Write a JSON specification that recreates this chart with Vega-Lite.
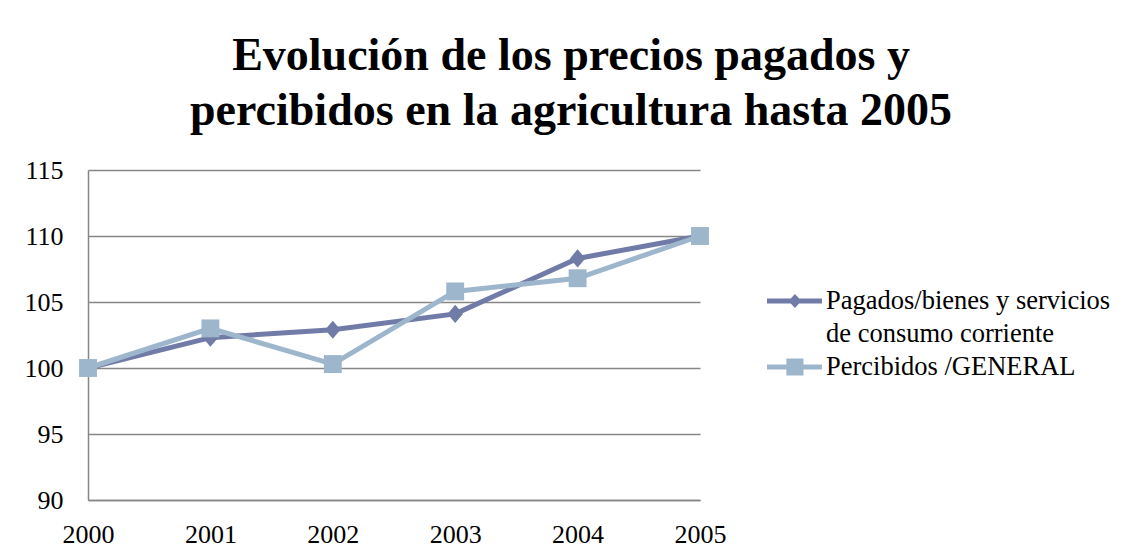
{
  "$schema": "https://vega.github.io/schema/vega-lite/v6.json",
  "autosize": {"type": "none"},
  "width": 612,
  "height": 330,
  "padding": {"left": 88, "top": 170, "right": 431, "bottom": 60},
  "background": "white",
  "title": {
    "text": ["Evolución de los precios pagados y", "percibidos en la agricultura hasta 2005"],
    "font": "Liberation Serif",
    "fontSize": 46,
    "fontWeight": "bold",
    "color": "#000000",
    "anchor": "middle",
    "frame": "group",
    "dx": 177,
    "dy": 57,
    "lineHeight": 55,
    "baseline": "alphabetic",
    "offset": 43
  },
  "config": {
    "font": "Liberation Serif",
    "view": {"stroke": null},
    "axis": {
      "labelFont": "Liberation Serif",
      "labelFontSize": 26,
      "labelColor": "#000000",
      "ticks": false,
      "title": null,
      "domainColor": "#868686",
      "domainWidth": 1.5,
      "gridColor": "#868686",
      "gridWidth": 1.5
    }
  },
  "data": {
    "values": [
      {"year": 2000, "serie": "Pagados/bienes y servicios de consumo corriente", "valor": 100},
      {"year": 2001, "serie": "Pagados/bienes y servicios de consumo corriente", "valor": 102.3},
      {"year": 2002, "serie": "Pagados/bienes y servicios de consumo corriente", "valor": 102.9},
      {"year": 2003, "serie": "Pagados/bienes y servicios de consumo corriente", "valor": 104.1},
      {"year": 2004, "serie": "Pagados/bienes y servicios de consumo corriente", "valor": 108.3},
      {"year": 2005, "serie": "Pagados/bienes y servicios de consumo corriente", "valor": 110},
      {"year": 2000, "serie": "Percibidos /GENERAL", "valor": 100},
      {"year": 2001, "serie": "Percibidos /GENERAL", "valor": 103.0},
      {"year": 2002, "serie": "Percibidos /GENERAL", "valor": 100.3},
      {"year": 2003, "serie": "Percibidos /GENERAL", "valor": 105.8},
      {"year": 2004, "serie": "Percibidos /GENERAL", "valor": 106.8},
      {"year": 2005, "serie": "Percibidos /GENERAL", "valor": 110}
    ]
  },
  "encoding": {
    "x": {
      "field": "year",
      "type": "quantitative",
      "scale": {"domain": [2000, 2005], "nice": false, "zero": false},
      "axis": {"values": [2000, 2001, 2002, 2003, 2004, 2005], "format": "d", "grid": false, "labelPadding": 21, "labelFlush": false}
    },
    "y": {
      "field": "valor",
      "type": "quantitative",
      "scale": {"domain": [90, 115], "nice": false, "zero": false},
      "axis": {"values": [90, 95, 100, 105, 110, 115], "labelPadding": 25, "grid": true}
    },
    "color": {
      "field": "serie",
      "type": "nominal",
      "scale": {
        "domain": ["Pagados/bienes y servicios de consumo corriente", "Percibidos /GENERAL"],
        "range": ["#717BA7", "#9DB6CC"]
      },
      "legend": {
        "title": null,
        "orient": "none",
        "legendX": 679,
        "legendY": 112,
        "labelFont": "Liberation Serif",
        "labelFontSize": 26.5,
        "labelColor": "#000000",
        "labelLimit": 400,
        "labelOffset": 21,
        "symbolSize": 1444,
        "symbolOpacity": 1,
        "rowPadding": 0,
        "labelExpr": "datum.label == 'Pagados/bienes y servicios de consumo corriente' ? ['Pagados/bienes y servicios', 'de consumo corriente'] : datum.label",
        "encode": {
          "symbols": {
            "update": {
              "shape": {"signal": "datum.value == 'Percibidos /GENERAL' ? 'M-1,-0.13L1.89,-0.13L1.89,0.13L-1,0.13Z M0.02,-0.45L0.92,-0.45L0.92,0.45L0.02,0.45Z' : 'M-1,-0.13L1.89,-0.13L1.89,0.13L-1,0.13Z M0.13,0L0.47,-0.37L0.81,0L0.47,0.37Z'"},
              "fill": {"scale": "color", "field": "value"},
              "fillOpacity": {"value": 1},
              "strokeWidth": {"value": 0}
            }
          },
          "labels": {
            "update": {"lineHeight": {"value": 33}}
          }
        }
      }
    }
  },
  "layer": [
    {
      "mark": {"type": "line", "strokeWidth": 5}
    },
    {
      "transform": [{"filter": "datum.serie == 'Pagados/bienes y servicios de consumo corriente'"}],
      "mark": {"type": "point", "filled": true, "opacity": 1, "size": 330, "shape": "M-0.85,0L0,-1L0.85,0L0,1Z"}
    },
    {
      "transform": [{"filter": "datum.serie == 'Percibidos /GENERAL'"}],
      "mark": {"type": "point", "filled": true, "opacity": 1, "size": 320, "shape": "square"}
    }
  ]
}
